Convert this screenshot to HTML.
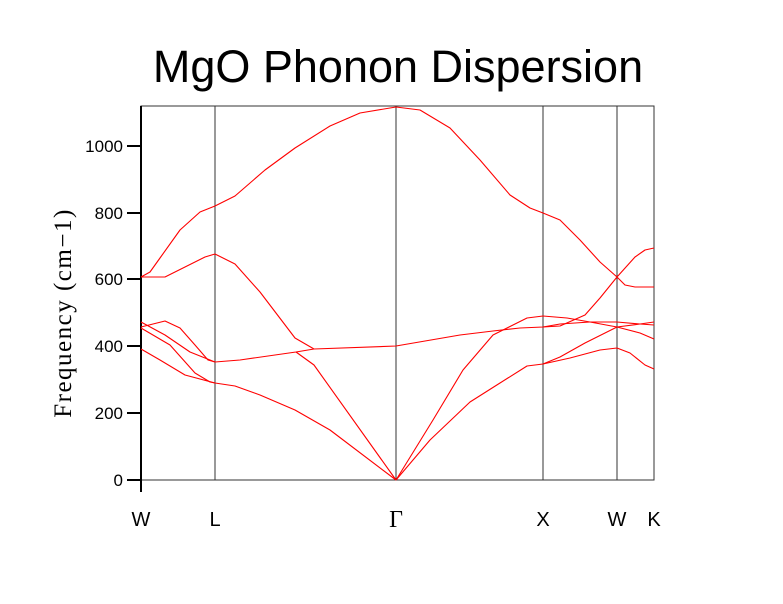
<!DOCTYPE html>
<html><head><meta charset="utf-8"><style>body{margin:0;background:#fff}</style></head><body>
<svg width="783" height="599" xmlns="http://www.w3.org/2000/svg" font-family="Liberation Sans, sans-serif">
<rect width="783" height="599" fill="#fff"/>
<text x="398" y="82" font-size="45" text-anchor="middle">MgO Phonon Dispersion</text>
<g stroke="#333" stroke-width="1" fill="none">
<rect x="141" y="106" width="513" height="374"/>
<line x1="215" y1="106" x2="215" y2="480"/><line x1="396" y1="106" x2="396" y2="480"/>
<line x1="543" y1="106" x2="543" y2="480"/><line x1="617" y1="106" x2="617" y2="480"/>
</g>
<g stroke="#000" stroke-width="2">
<line x1="141" y1="106" x2="141" y2="492"/>
<line x1="127" y1="480" x2="141" y2="480"/><line x1="127" y1="413" x2="141" y2="413"/>
<line x1="127" y1="346" x2="141" y2="346"/><line x1="127" y1="279" x2="141" y2="279"/>
<line x1="127" y1="213" x2="141" y2="213"/><line x1="127" y1="146" x2="141" y2="146"/>
</g>
<g font-size="17" text-anchor="end">
<text x="123" y="486">0</text><text x="123" y="419">200</text><text x="123" y="352">400</text>
<text x="123" y="285">600</text><text x="123" y="219">800</text><text x="123" y="152">1000</text>
</g>
<g font-size="20" text-anchor="middle">
<text x="141" y="526">W</text><text x="215" y="526">L</text><text x="396" y="527" font-size="24" font-family="Liberation Serif, serif">Γ</text>
<text x="543" y="526">X</text><text x="617" y="526">W</text><text x="654" y="526">K</text>
</g>
<text transform="translate(71,313) rotate(-90)" font-size="25" letter-spacing="1.5" text-anchor="middle" font-family="Liberation Serif, serif">Frequency  (cm−1)</text>
<g stroke="#f00" stroke-width="1.1" fill="none" stroke-linejoin="round">
<polyline points="141,277 150,272 160,258 180,230 200,212 215,206 235,196 265,170 295,148 330,126 360,113 396,107 420,110 450,128 480,160 510,195 530,208 543,213 560,220 580,240 600,262 617,277 625,285 635,287 654,287"/>
<polyline points="141,277 165,277 185,267 205,257 215,254 235,264 260,292 295,338 314,349"/>
<polyline points="141,327 165,321 180,328 195,345 208,360 215,362 240,360 296,352 314,349 396,346 460,335 493,331 520,328 543,327 560,324 590,322 617,322 640,324 654,325"/>
<polyline points="296,352 314,365 396,480"/>
<polyline points="141,322 165,335 190,352 215,362"/>
<polyline points="141,328 170,345 195,373 210,382 215,383"/>
<polyline points="141,349 160,360 185,375 215,383 235,386 260,395 295,410 330,430 396,480"/>
<polyline points="396,480 433,420 463,370 493,335 527,318 543,316 567,318 590,322 617,327 640,333 654,339"/>
<polyline points="543,327 560,326 585,315 600,298 617,277 635,257 645,250 654,248"/>
<polyline points="396,480 430,440 470,402 500,383 527,366 543,364 560,357 585,343 617,327 640,324 654,322"/>
<polyline points="543,364 570,358 600,350 617,348 630,353 645,365 654,369"/>
</g>
</svg>
</body></html>
